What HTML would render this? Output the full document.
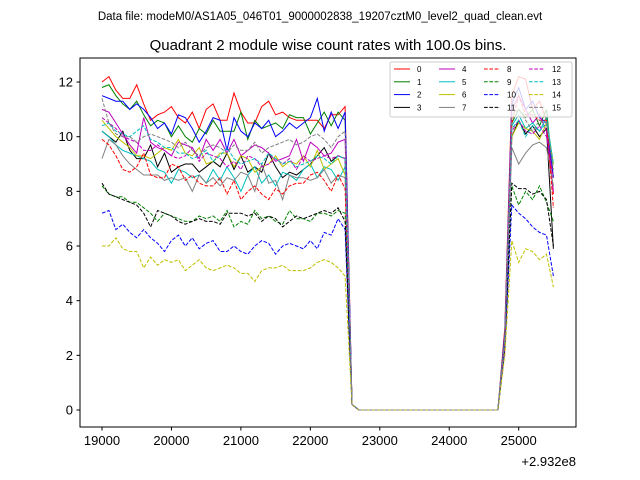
<!DOCTYPE html>
<html><head><meta charset="utf-8"><style>
body{margin:0;background:#fff;}
svg{display:block;font-family:"Liberation Sans",sans-serif;}
</style></head><body>
<svg id="chart" width="640" height="480" viewBox="0 0 640 480">
<rect width="640" height="480" fill="#fff"/>
<text x="320" y="20" font-size="11.5" text-anchor="middle">Data file: modeM0/AS1A05_046T01_9000002838_19207cztM0_level2_quad_clean.evt</text>
<text x="328" y="50" font-size="15" text-anchor="middle">Quadrant 2 module wise count rates with 100.0s bins.</text>
<g id="plot"></g>
<rect x="80" y="58" width="496" height="369" fill="none" stroke="#000" stroke-width="1"/>
<g id="axes"></g>
<text x="576" y="466" font-size="13" text-anchor="end">+2.932e8</text>
<g id="legend"></g>
</svg>
<script>
const xTicks=[19000,20000,21000,22000,23000,24000,25000];
const yTicks=[0,2,4,6,8,10,12];
const preStart=19000, step=100;
const gapVals=[0.2,0,0,0,0,0,0,0,0,0,0,0,0,0,0,0,0,0,0,0,0,0];
const names=["0","1","2","3","4","5","6","7","8","9","10","11","12","13","14","15"];
const colors=["#f00","#008000","#00f","#000","#bf00bf","#00bfbf","#bfbf00","#808080","#f00","#008000","#00f","#000","#bf00bf","#00bfbf","#bfbf00","#808080"];
const s0=[12.0,12.2,11.7,11.4,11.4,11.9,11.2,10.6,10.8,10.9,11.1,10.7,10.5,10.9,10.3,11.0,11.2,10.6,10.6,11.6,10.9,10.5,10.5,11.1,11.3,10.8,10.9,10.7,10.6,10.6,10.6,10.6,10.3,10.8,10.8,11.1];
const p0=[3.0,11.5,12.2,12.1,11.0,11.3,10.6,7.9];
const s1=[11.8,11.9,11.5,11.2,11.0,11.3,10.8,10.4,10.6,10.5,10.0,10.4,10.0,9.8,10.3,10.1,10.6,10.2,10.2,10.2,10.9,9.9,10.6,10.3,10.4,10.5,10.3,10.8,10.7,10.7,10.1,10.5,10.9,10.4,10.9,10.6];
const p1=[2.5,10.5,11.0,10.7,11.0,10.4,11.0,8.5];
const s2=[11.5,11.4,11.3,11.3,11.0,11.2,11.0,10.7,10.3,10.5,10.1,10.8,10.7,10.3,9.8,10.2,10.7,10.6,9.5,10.7,10.2,10.0,10.5,10.3,10.6,10.0,10.2,10.5,10.3,10.5,10.7,11.4,10.2,10.9,10.3,10.9];
const p2=[2.8,11.2,11.8,11.0,11.3,10.7,10.5,8.5];
const s3=[10.2,10.0,9.8,10.2,9.5,9.2,9.2,9.7,8.9,9.4,8.7,8.9,9.0,9.0,8.7,8.9,9.1,8.9,9.4,8.8,9.3,8.7,8.9,8.7,9.4,8.9,8.5,8.7,8.6,8.8,9.0,9.3,9.6,9.1,9.3,9.2];
const p3=[2.5,10.0,10.6,10.1,10.4,10.0,10.3,5.9];
const s4=[11.0,10.9,10.5,10.1,9.7,9.4,10.7,9.8,9.6,9.5,9.3,9.8,9.7,9.6,9.2,9.9,9.5,9.9,9.4,9.9,9.3,9.5,9.7,9.6,9.4,9.1,9.2,9.3,9.9,9.1,9.8,9.6,9.3,9.4,9.8,9.9];
const p4=[2.5,11.0,11.5,11.0,10.5,10.8,10.2,8.0];
const s5=[10.2,10.0,9.7,9.5,9.4,9.3,9.2,9.1,8.8,8.7,8.3,8.8,8.7,8.5,8.6,8.3,8.8,8.4,8.9,8.5,8.0,8.6,8.9,8.3,8.6,8.2,8.7,8.6,8.4,8.8,9.0,8.5,8.9,8.8,8.4,8.9];
const p5=[2.6,10.4,10.8,10.3,10.5,10.2,10.7,9.0];
const s6=[10.6,10.3,10.0,9.8,9.6,9.3,9.3,9.2,9.4,9.6,9.5,9.9,9.4,9.3,9.6,9.0,9.1,9.4,9.4,8.9,9.3,9.2,8.7,8.9,9.0,9.3,8.9,9.1,9.0,9.3,8.9,9.5,8.8,9.0,9.2,8.6];
const p6=[2.4,10.0,10.5,10.3,10.2,9.9,10.5,9.0];
const s7=[9.2,9.9,9.7,9.3,9.0,8.8,8.6,8.6,8.6,8.4,8.5,8.4,8.5,8.0,8.6,8.3,8.5,8.2,8.5,8.4,8.7,8.6,8.0,9.0,8.3,8.4,7.7,8.6,8.5,8.5,8.4,8.5,8.8,8.3,8.6,8.5];
const p7=[2.4,9.6,9.0,9.4,9.7,9.8,9.6,8.2];
const s8=[9.9,9.7,9.3,8.8,8.7,8.9,9.4,8.6,8.5,8.5,9.0,8.9,8.4,8.6,8.3,8.2,8.2,8.5,7.9,8.4,7.7,8.0,8.2,7.9,7.7,8.1,7.9,8.2,8.3,8.3,8.6,8.7,8.4,8.0,8.6,8.1];
const p8=[2.5,10.5,11.5,10.8,10.8,10.6,10.6,7.4];
const s9=[8.2,7.9,7.8,7.8,7.6,7.6,7.4,7.2,6.9,7.2,7.1,7.0,6.9,6.9,7.1,7.0,7.1,6.9,7.3,6.7,6.9,6.8,7.3,7.0,7.1,6.9,6.8,7.3,7.0,7.0,6.9,7.2,7.2,7.1,7.3,7.2];
const p9=[2.3,8.2,7.5,8.0,7.7,8.2,7.6,6.9];
const s10=[7.2,7.3,6.6,6.8,6.5,6.3,6.6,6.3,6.1,5.8,6.2,6.4,6.0,6.3,5.9,6.1,6.2,5.8,5.8,6.0,5.8,5.7,6.0,6.2,6.1,5.7,6.0,6.1,6.0,5.9,6.2,5.9,6.5,6.4,7.0,6.6];
const p10=[2.2,7.5,7.2,7.0,6.7,6.5,6.4,4.9];
const s11=[8.3,7.9,7.8,7.7,7.6,7.5,7.2,6.7,7.3,7.2,7.1,6.9,6.8,6.9,7.0,6.9,6.9,6.8,7.2,7.2,7.2,7.1,7.2,6.9,7.1,7.0,6.7,6.9,7.1,7.0,7.1,7.2,7.3,7.2,7.4,6.9];
const p11=[2.3,8.3,8.1,8.1,7.9,8.0,7.7,6.0];
const s12=[10.7,10.5,10.3,10.0,9.9,9.8,9.5,9.5,9.7,9.5,9.3,9.2,9.3,9.6,9.1,9.4,9.3,9.2,8.9,9.1,8.8,9.3,9.2,8.9,9.0,9.2,9.0,9.2,8.8,9.3,9.1,9.2,9.3,9.2,9.3,9.2];
const p12=[2.4,10.2,10.6,10.2,10.1,10.4,10.0,8.5];
const s13=[10.4,10.5,10.2,10.1,10.0,10.2,10.4,9.9,9.8,9.6,9.6,9.4,9.4,9.2,9.3,9.5,9.1,9.3,9.6,9.2,9.0,9.1,9.2,9.0,9.4,9.2,9.0,9.1,8.9,9.0,9.1,9.3,9.2,9.0,9.3,9.2];
const p13=[2.6,10.3,10.6,10.0,10.4,10.2,10.5,9.0];
const s14=[6.0,6.0,6.3,5.9,5.8,5.8,5.2,5.6,5.3,5.5,5.4,5.5,5.1,5.3,5.5,5.2,5.1,5.2,5.3,5.2,5.0,5.0,4.7,5.1,5.2,5.2,5.3,5.1,5.1,5.1,5.2,5.4,5.5,5.4,5.2,4.9];
const p14=[2.0,6.2,5.4,5.9,5.8,5.5,5.7,4.5];
const s15=[11.4,10.5,10.1,10.0,10.0,9.8,10.0,10.1,10.0,9.9,9.8,9.6,9.8,9.5,9.3,9.6,9.7,9.6,9.4,9.7,9.5,9.5,9.8,9.4,9.6,9.7,9.8,9.9,9.7,9.8,10.0,10.1,9.9,9.6,10.0,10.2];
const p15=[2.6,10.8,11.0,10.6,10.2,10.6,10.5,8.8];
const pre=[s0,s1,s2,s3,s4,s5,s6,s7,s8,s9,s10,s11,s12,s13,s14,s15];
const post=[p0,p1,p2,p3,p4,p5,p6,p7,p8,p9,p10,p11,p12,p13,p14,p15];

const NS="http://www.w3.org/2000/svg";
function X(v){return 102+(v-19000)*0.06945;}
function Y(v){return 410-v*27.33;}
const plot=document.getElementById('plot');
for(let i=0;i<16;i++){
  const vals=pre[i].concat(gapVals,post[i]);
  let pts=vals.map((v,k)=>X(preStart+k*step).toFixed(1)+","+Y(v).toFixed(1)).join(" ");
  const pl=document.createElementNS(NS,'polyline');
  
  
  pl.setAttribute('points',pts);
  pl.setAttribute('fill','none');
  pl.setAttribute('stroke',colors[i]);
  pl.setAttribute('stroke-width','1');
  if(i>=8)pl.setAttribute('stroke-dasharray','3.7,1.6');
  plot.appendChild(pl);
}
const axes=document.getElementById('axes');
xTicks.forEach(t=>{
  const l=document.createElementNS(NS,'line');
  
  
  l.setAttribute('x1',X(t));l.setAttribute('x2',X(t));l.setAttribute('y1',427);l.setAttribute('y2',430.5);l.setAttribute('stroke','#000');
  axes.appendChild(l);
  const tx=document.createElementNS(NS,'text');
  
  
  tx.setAttribute('x',X(t));tx.setAttribute('y',445);tx.setAttribute('font-size','13');tx.setAttribute('text-anchor','middle');
  tx.textContent=t;axes.appendChild(tx);
});
yTicks.forEach(t=>{
  const l=document.createElementNS(NS,'line');
  
  
  l.setAttribute('x1',76.5);l.setAttribute('x2',80);l.setAttribute('y1',Y(t));l.setAttribute('y2',Y(t));l.setAttribute('stroke','#000');
  axes.appendChild(l);
  const tx=document.createElementNS(NS,'text');
  
  
  tx.setAttribute('x',73);tx.setAttribute('y',Y(t)+4.5);tx.setAttribute('font-size','13');tx.setAttribute('text-anchor','end');
  tx.textContent=t;axes.appendChild(tx);
});
const lg=document.getElementById('legend');
const box=document.createElementNS(NS,'rect');


box.setAttribute('x',390);box.setAttribute('y',62);box.setAttribute('width',182);box.setAttribute('height',55);box.setAttribute('rx',2);
box.setAttribute('fill','#fff');box.setAttribute('fill-opacity','0.8');box.setAttribute('stroke','#ccc');
lg.appendChild(box);
for(let i=0;i<16;i++){
  const col=Math.floor(i/4),row=i%4;
  const x0=394+col*45,y0=69+row*12.8;
  const l=document.createElementNS(NS,'line');
  
  
  l.setAttribute('x1',x0);l.setAttribute('x2',x0+16);l.setAttribute('y1',y0);l.setAttribute('y2',y0);
  l.setAttribute('stroke',colors[i]);l.setAttribute('stroke-width','1');
  if(i>=8)l.setAttribute('stroke-dasharray','3.7,1.6');
  lg.appendChild(l);
  const tx=document.createElementNS(NS,'text');
  
  
  tx.setAttribute('x',x0+23);tx.setAttribute('y',y0+3);tx.setAttribute('font-size','8');
  tx.textContent=names[i];lg.appendChild(tx);
}
</script>
</body></html>
